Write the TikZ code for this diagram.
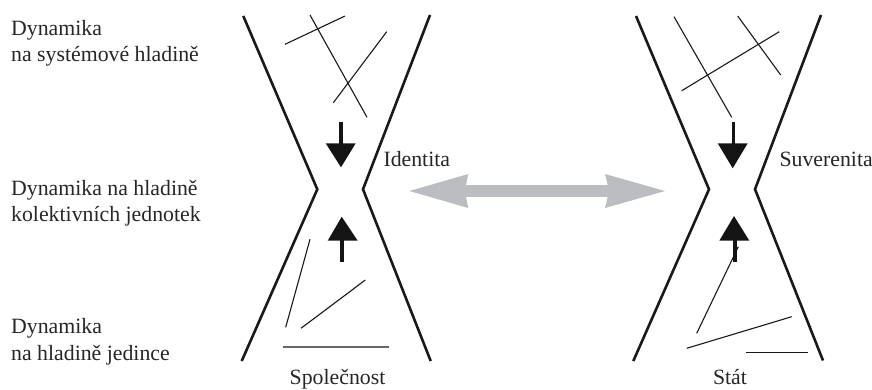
\documentclass[tikz,border=0pt]{standalone}
\usepackage{fontspec}
\setmainfont{Liberation Serif}
\definecolor{arrowgrey}{RGB}{188,189,192}
\begin{document}
\begin{tikzpicture}[x=1pt,y=-1pt,
  lbl/.style={font=\fontsize{21.8pt}{26pt}\selectfont, inner sep=0pt, anchor=base west, text=black!85},
  clbl/.style={font=\fontsize{21.8pt}{26pt}\selectfont, inner sep=0pt, anchor=base, text=black!85},
  wall/.style={line width=2.6pt, black!90, line join=miter},
  thin/.style={line width=1.1pt, black!90},
  headfill/.style={fill=black!92, draw=none},
  shaft/.style={line width=3.2pt, black!92},
  twoway/.style={fill=arrowgrey, draw=none}]
\useasboundingbox (0,0) rectangle (872,389);
% left labels
\node[lbl] (t1a) at (11,35) {Dynamika};
\node[lbl] (t1b) at (11,61.5) {na systémové hladině};
\node[lbl] (t2a) at (11,195) {Dynamika na hladině};
\node[lbl] (t2b) at (11,221.5) {kolektivních jednotek};
\node[lbl] (t3a) at (11,333.5) {Dynamika};
\node[lbl] (t3b) at (11,360) {na hladině jedince};
% left hourglass
\draw[wall] (243.3,16) -- (317.3,189.3) -- (241.7,361);
\draw[wall] (430,15) -- (363,189.3) -- (430.7,361);
\draw[thin] (285,44.3) -- (345,16);
\draw[thin] (310,15) -- (367,117.3);
\draw[thin] (333.3,102.7) -- (386.7,31.7);
\draw[thin] (310,239.3) -- (285.7,327.3);
\draw[thin] (301,328.3) -- (365.3,280);
\draw[line width=1.8pt, black!60] (283.3,346.7) -- (389.3,346.7);
\draw[shaft] (341,121.7) -- (341,144);
\fill[headfill] (325.7,143.3) -- (355.7,143.3) -- (341,167.3) -- cycle;
\draw[shaft] (342,240) -- (342,261.7);
\fill[headfill] (327.7,240.7) -- (357.7,240.7) -- (341.7,216.7) -- cycle;
\node[lbl] (ident) at (383.3,166.7) {Identita};
\node[clbl] (spol) at (337.5,384.5) {Společnost};
% right hourglass
\draw[wall] (636,16) -- (709,189.3) -- (633.3,361);
\draw[wall] (821,15) -- (755,189.3) -- (823,360.5);
\draw[thin] (674,16.7) -- (731.7,117.3);
\draw[thin] (737.7,16) -- (780.7,75);
\draw[thin] (681.7,90.7) -- (779.3,31.7);
\draw[thin] (696.7,333.3) -- (738.3,246.7);
\draw[thin] (686.7,348.3) -- (791.7,316.7);
\draw[thin] (745.7,352.7) -- (808.3,352.7);
\draw[shaft] (733.3,121.7) -- (733.3,144);
\fill[headfill] (717.7,143.3) -- (747.7,143.3) -- (732.7,168.3) -- cycle;
\draw[shaft] (735,240) -- (735,261.7);
\fill[headfill] (719.3,240.7) -- (749.3,240.7) -- (734,216) -- cycle;
\node[lbl] (suv) at (779.3,166.7) {Suverenita};
\node[clbl] (stat) at (730,384.5) {Stát};
% grey double arrow
\coordinate (ltip) at (409.3,191);
\coordinate (rtip) at (665,191);
\fill[twoway] (ltip) -- (468.3,174) -- (466,185.2) -- (607.7,185.2) -- (605,174) -- (rtip)
  -- (605,208) -- (607.7,196.8) -- (466,196.8) -- (468.3,208) -- cycle;
\end{tikzpicture}
\end{document}
